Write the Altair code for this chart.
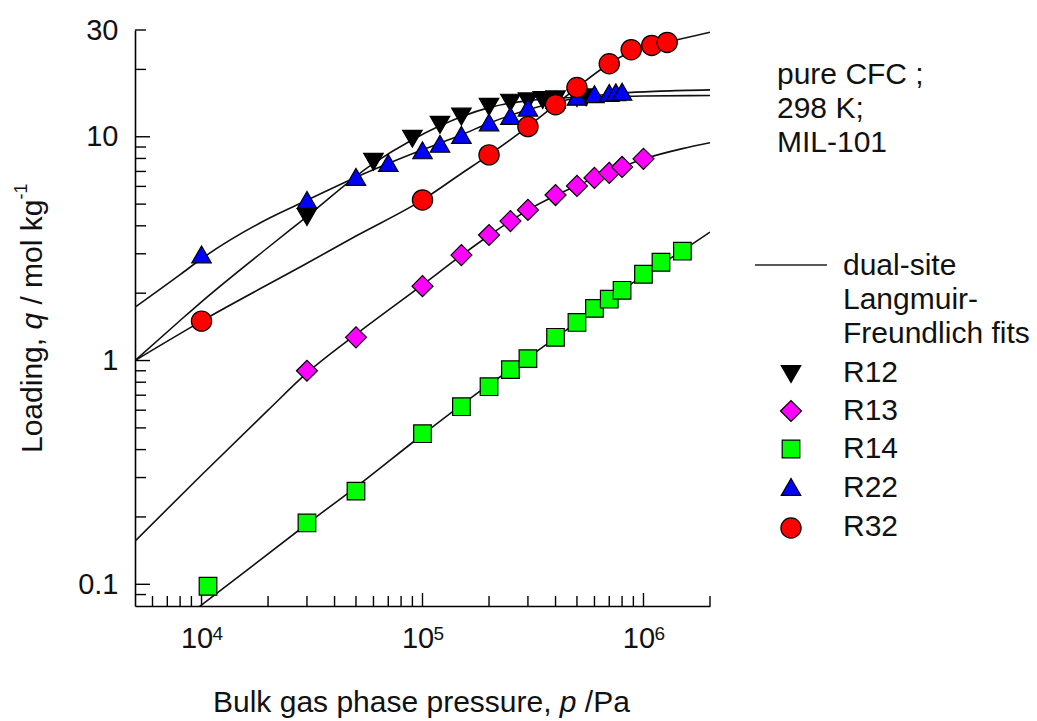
import altair as alt
import pandas as pd

FONT = "Liberation Sans, Arial, Helvetica, sans-serif"
INK = "#111111"

# ---- measured pure-component isotherms, MIL-101 at 298 K (p in Pa, q in mol/kg)
r12_p = [3e4, 6e4, 9e4, 1.2e5, 1.5e5, 2e5, 2.5e5, 3e5, 3.5e5, 4e5, 5e5, 5.5e5]
r12_q = [4.38, 7.72, 9.8, 11.3, 12.3, 13.6, 14.2, 14.4, 14.6, 14.7, 14.9, 15.0]

r13_p = [3e4, 5e4, 1e5, 1.5e5, 2e5, 2.5e5, 3e5, 4e5, 5e5, 6e5, 7e5, 8e5, 1e6]
r13_q = [0.90, 1.27, 2.15, 2.96, 3.64, 4.20, 4.71, 5.49, 6.03, 6.55, 6.90, 7.33, 7.97]

r14_p = [1.07e4, 3e4, 5e4, 1e5, 1.5e5, 2e5, 2.5e5, 3e5, 4e5, 5e5, 6e5, 7e5, 8e5, 1e6, 1.2e6, 1.5e6]
r14_q = [0.098, 0.188, 0.261, 0.471, 0.622, 0.764, 0.911, 1.02, 1.27, 1.48, 1.71, 1.88, 2.06, 2.43, 2.75, 3.08]

r22_p = [1e4, 3e4, 5e4, 7e4, 1e5, 1.2e5, 1.5e5, 2e5, 2.5e5, 3e5, 4e5, 5e5, 6e5, 7e5, 7.5e5, 8e5]
r22_q = [2.98, 5.22, 6.62, 7.64, 8.7, 9.3, 10.2, 11.6, 12.4, 13.5, 14.6, 15.1, 15.5, 15.7, 15.8, 15.9]

r32_p = [1e4, 1e5, 2e5, 3e5, 4e5, 5e5, 7e5, 8.8e5, 1.09e6, 1.28e6]
r32_q = [1.50, 5.22, 8.30, 11.1, 13.9, 16.6, 21.2, 24.5, 25.6, 26.4]

# ---- dual-site Langmuir-Freundlich fit curves, sampled along each curve
fit12_p = [5e3, 8e3, 1e4, 2e4, 3e4, 6e4, 9e4, 1.2e5, 1.5e5, 2e5, 3e5, 5e5, 1e6, 2e6]
fit12_q = [1.0, 1.51, 1.83, 3.2, 4.4, 7.6, 9.7, 11.2, 12.3, 13.5, 14.5, 15.0, 15.2, 15.3]

fit13_p = [5e3, 1e4, 2e4, 3e4, 5e4, 1e5, 1.5e5, 2e5, 3e5, 5e5, 7e5, 1e6, 1.5e6, 2e6]
fit13_q = [0.156, 0.308, 0.60, 0.88, 1.31, 2.18, 2.95, 3.62, 4.7, 6.05, 6.95, 7.95, 8.85, 9.4]

fit14_p = [9.7e3, 3e4, 5e4, 1e5, 2e5, 3e5, 5e5, 7e5, 1e6, 1.5e6, 2e6]
fit14_q = [0.079, 0.186, 0.272, 0.466, 0.78, 1.03, 1.48, 1.87, 2.40, 3.10, 3.75]

fit22_p = [5e3, 8e3, 1e4, 2e4, 3e4, 5e4, 7e4, 1e5, 1.5e5, 2e5, 3e5, 5e5, 8e5, 1.2e6, 2e6]
fit22_q = [1.73, 2.42, 2.85, 4.3, 5.2, 6.6, 7.6, 8.75, 10.2, 11.5, 13.2, 14.9, 15.7, 16.0, 16.2]

fit32_p = [5e3, 1e4, 3e4, 5e4, 1e5, 1.5e5, 2e5, 3e5, 4e5, 5e5, 7e5, 9e5, 1.1e6, 1.3e6, 2e6]
fit32_q = [1.0, 1.5, 2.72, 3.6, 5.22, 6.85, 8.3, 11.1, 13.9, 16.6, 21.2, 24.3, 25.7, 26.6, 29.3]

series_names = ["R12", "R13", "R14", "R22", "R32"]
series_data = {
    "R12": (r12_p, r12_q, fit12_p, fit12_q),
    "R13": (r13_p, r13_q, fit13_p, fit13_q),
    "R14": (r14_p, r14_q, fit14_p, fit14_q),
    "R22": (r22_p, r22_q, fit22_p, fit22_q),
    "R32": (r32_p, r32_q, fit32_p, fit32_q),
}
# marker shape, fill colour and symbol area for each compound
series_style = {
    "R12": ("triangle-down", "#000000", 380),
    "R13": ("diamond", "#ff00ff", 440),
    "R14": ("square", "#00ff00", 310),
    "R22": ("triangle-up", "#0000ff", 380),
    "R32": ("circle", "#ff0000", 410),
}

# axis tick positions and decade exponents
x_major_ticks = [1e4, 1e5, 1e6]
x_exponents = ["4", "5", "6"]
x_minor_ticks = [6e3, 7e3, 8e3, 9e3,
                 2e4, 3e4, 4e4, 5e4, 6e4, 7e4, 8e4, 9e4,
                 2e5, 3e5, 4e5, 5e5, 6e5, 7e5, 8e5, 9e5, 2e6]
y_major_ticks = [0.1, 1, 10]
y_minor_ticks = [0.09, 0.2, 0.3, 0.4, 0.5, 0.6, 0.7, 0.8, 0.9,
                 2, 3, 4, 5, 6, 7, 8, 9, 20, 30]
y_labels = [0.1, 1, 10, 30]

# ---- layout (plot area size and its offset inside the page)
W, H = 575, 576
LEFT, TOP = 135, 30
PAGE_W, PAGE_H = 1037, 721

xs = alt.Scale(type="log", domain=[5e3, 2e6], nice=False)
ys = alt.Scale(type="log", domain=[0.08, 30], nice=False)

# one shared axis definition per channel, used by every layer on the scales
x_axis = alt.Axis(
    values=x_major_ticks,
    labelExpr="'10'",
    labelOffset=-5,
    ticks=False, tickSize=0, grid=False, title=None,
    domain=True, domainColor="#000000", domainWidth=1.6,
    labelFont=FONT, labelFontSize=29, labelColor=INK, labelPadding=18,
    labelFlush=False, labelOverlap=False,
)
y_axis = alt.Axis(
    values=y_labels, format="~g",
    ticks=False, tickSize=0, grid=False, title=None,
    domain=True, domainColor="#000000", domainWidth=1.6,
    labelFont=FONT, labelFontSize=29, labelColor=INK, labelPadding=17,
    labelFlush=False, labelOverlap=False,
)


def X(field):
    return alt.X(field, scale=xs, axis=x_axis)


def Y(field):
    return alt.Y(field, scale=ys, axis=y_axis)


layers = []

# fit curves
fit_df = pd.concat(
    [pd.DataFrame({"series": n, "p": series_data[n][2], "q": series_data[n][3]}) for n in series_names],
    ignore_index=True,
)
layers.append(
    alt.Chart(fit_df)
    .mark_line(color="#111111", strokeWidth=1.6, clip=True, interpolate="monotone")
    .encode(x=X("p:Q"), y=Y("q:Q"), detail="series:N")
)


# inward tick marks
def y_ticks(values, length):
    return alt.Chart(pd.DataFrame({"p": [1e4] * len(values), "q": values})).mark_rule(
        color="#000000", strokeWidth=1.4
    ).encode(y=Y("q:Q"), x=alt.value(0), x2=alt.value(length))


def x_ticks(values, length):
    return alt.Chart(pd.DataFrame({"p": values, "q": [1.0] * len(values)})).mark_rule(
        color="#000000", strokeWidth=1.4
    ).encode(x=X("p:Q"), y=alt.value(H), y2=alt.value(H - length))


layers += [y_ticks(y_minor_ticks, 11), y_ticks(y_major_ticks, 15),
           x_ticks(x_minor_ticks, 10), x_ticks(x_major_ticks, 13)]

# superscript exponents of the decade labels on the pressure axis
layers.append(
    alt.Chart(pd.DataFrame({"p": x_major_ticks, "q": [1.0] * 3, "e": x_exponents}))
    .mark_text(font=FONT, fontSize=19, color=INK, align="left", baseline="alphabetic", dx=11)
    .encode(x=X("p:Q"), y=alt.value(640 - TOP), text="e:N")
)

# data markers (R32 drawn last, on top)
for n in series_names:
    shape, fill, size = series_style[n]
    df = pd.DataFrame({"p": series_data[n][0], "q": series_data[n][1]})
    layers.append(
        alt.Chart(df)
        .mark_point(shape=shape, filled=True, fill=fill, stroke="#000000", strokeWidth=1.2,
                    size=size, opacity=1, clip=True)
        .encode(x=X("p:Q"), y=Y("q:Q"))
    )


def text_at(t, x, y, size=30, style="normal", angle=0, align="left", baseline="alphabetic"):
    return (
        alt.Chart(pd.DataFrame({"t": [t]}))
        .mark_text(font=FONT, fontSize=size, fontStyle=style, color=INK, angle=angle,
                   align=align, baseline=baseline)
        .encode(text="t:N", x=alt.value(x), y=alt.value(y))
    )


EM = 30  # title / annotation font size

# x-axis title: "Bulk gas phase pressure, p /Pa" with italic p
xt_x, xt_y = 213 - LEFT, 712 - TOP
w_main = 11.283 * EM
w_space = 0.278 * EM
w_p = 0.556 * EM
layers.append(text_at("Bulk gas phase pressure,", xt_x, xt_y))
layers.append(text_at("p", xt_x + w_main + w_space, xt_y, style="italic"))
layers.append(text_at("/Pa", xt_x + w_main + 2 * w_space + w_p, xt_y))

# y-axis title: "Loading, q / mol kg^-1" with italic q, reading upward
yt_x, yt_y = 42 - LEFT, 453 - TOP
w_load = 3.836 * EM
w_q = 0.556 * EM
w_unit = 3.501 * EM
layers.append(text_at("Loading,", yt_x, yt_y, angle=270))
q_y = yt_y - w_load - w_space
layers.append(text_at("q", yt_x, q_y, style="italic", angle=270))
u_y = q_y - w_q - w_space
layers.append(text_at("/ mol kg", yt_x, u_y, angle=270))
layers.append(text_at("-1", yt_x - 15, u_y - w_unit, size=18, angle=270))

# conditions note
for i, line in enumerate(["pure CFC ;", "298 K;", "MIL-101"]):
    layers.append(text_at(line, 777 - LEFT, 84 - TOP + i * 34))

# legend
layers.append(
    alt.Chart(pd.DataFrame({"k": [0]}))
    .mark_rule(color="#222222", strokeWidth=1.6)
    .encode(x=alt.value(755 - LEFT), x2=alt.value(827 - LEFT), y=alt.value(265 - TOP))
)
for i, line in enumerate(["dual-site", "Langmuir-", "Freundlich fits"]):
    layers.append(text_at(line, 843 - LEFT, 275 - TOP + i * 34))

legend_symbol_y = [374, 411, 449, 487, 528]
legend_text_y = [382, 420, 458, 497, 536]
for n, sy, ty in zip(series_names, legend_symbol_y, legend_text_y):
    shape, fill, size = series_style[n]
    layers.append(
        alt.Chart(pd.DataFrame({"k": [0]}))
        .mark_point(shape=shape, filled=True, fill=fill, stroke="#000000", strokeWidth=1.2,
                    size=size, opacity=1)
        .encode(x=alt.value(791 - LEFT), y=alt.value(sy - TOP))
    )
    layers.append(text_at(n, 843 - LEFT, ty - TOP))

chart = (
    alt.layer(*layers)
    .properties(
        width=W,
        height=H,
        autosize=alt.AutoSizeParams(type="none"),
        padding={"left": LEFT, "top": TOP, "right": PAGE_W - LEFT - W, "bottom": PAGE_H - TOP - H},
        background="white",
    )
    .configure_view(stroke=None)
)

chart.save("out.html", embed_options={"renderer": "svg", "actions": False})
